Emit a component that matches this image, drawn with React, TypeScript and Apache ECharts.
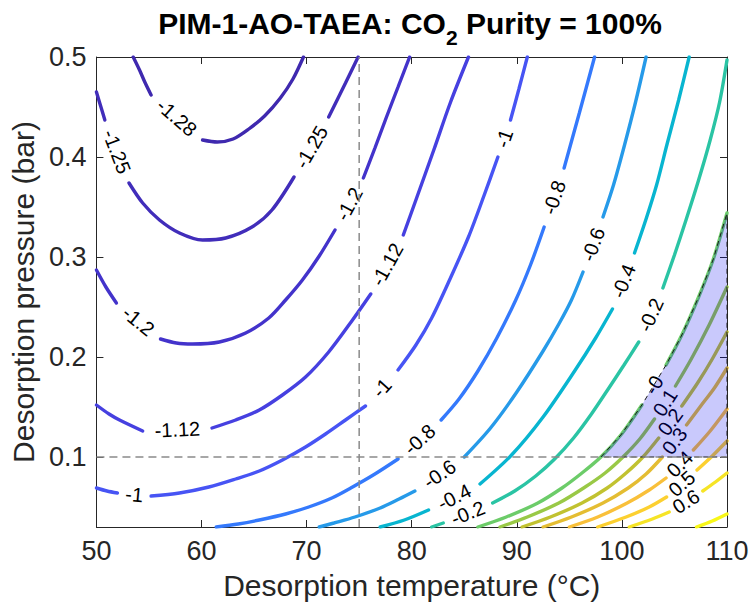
import { useEffect, useRef } from 'react';
import * as echarts from 'echarts';

const FONT = '"Liberation Sans", Arial, Helvetica, sans-serif';
const AXIS_COLOR = '#262626';

// axis ranges and ticks
const T_MIN = 50;
const T_MAX = 110;
const T_STEP = 10;
const P_MIN = 0.03;
const P_MAX = 0.5;
const P_TICKS = [0.1, 0.2, 0.3, 0.4, 0.5];

// operating limits (dashed guides)
const T_LIMIT = 75;
const P_LIMIT = 0.1;

// contour levels and their printed labels
const LEVELS = [-1.28, -1.25, -1.2, -1.12, -1, -0.8, -0.6, -0.4, -0.2, 0, 0.1, 0.2, 0.3, 0.4, 0.5, 0.6, 0.7];
const LEVEL_TEXT = ['-1.28', '-1.25', '-1.2', '-1.12', '-1', '-0.8', '-0.6', '-0.4', '-0.2', '-0', '0.1', '0.2', '0.3', '0.4', '0.5', '0.6', '0.7'];

// contour paths [T (°C), P (bar)]; each break between pieces holds an inline label
const C_M128 = [
  [[53.5, 0.5], [54.1, 0.487], [54.6, 0.475], [55.2, 0.462]],
  [[60.1, 0.417], [61.5, 0.415], [63.0, 0.418], [64.5, 0.428], [66.0, 0.441], [67.5, 0.459], [68.7, 0.478], [69.7, 0.5]],
];
const C_M125 = [
  [[50, 0.465], [50.4, 0.451], [50.8, 0.437]],
  [[53.1, 0.374], [54.4, 0.354], [56.0, 0.337], [57.9, 0.324], [60.1, 0.317], [62.3, 0.319], [64.8, 0.33], [66.7, 0.347], [68.8, 0.38]],
  [[72.1, 0.44], [73.7, 0.474], [74.9, 0.5]],
];
const C_M120 = [
  [[50, 0.287], [50.9, 0.27], [51.9, 0.254]],
  [[56.1, 0.218], [57.6, 0.214], [59.15, 0.213], [61.7, 0.215], [64.2, 0.224], [66.4, 0.239], [68.0, 0.257], [69.6, 0.277], [71.2, 0.301], [72.7, 0.327]],
  [[75.4, 0.379], [76.5, 0.409], [77.6, 0.44], [78.7, 0.47], [79.8, 0.5]],
];
const C_M112 = [
  [[50, 0.152], [51.2, 0.143], [52.2, 0.137], [54.4, 0.126]],
  [[61.0, 0.129], [63.25, 0.137], [65.5, 0.147], [67.7, 0.162], [69.9, 0.18], [72.1, 0.205], [74.3, 0.236], [76.1, 0.263]],
  [[79.2, 0.322], [80.5, 0.36], [82.1, 0.407], [83.7, 0.455], [85.4, 0.5]],
];
const C_M100 = [
  [[50, 0.069], [51.0, 0.066], [52.0, 0.064]],
  [[55.2, 0.061], [57.9, 0.064], [60.7, 0.07], [63.25, 0.078], [65.5, 0.086], [67.7, 0.097], [69.9, 0.11], [71.8, 0.123], [73.7, 0.137], [75.6, 0.151]],
  [[78.7, 0.187], [80.4, 0.212], [81.9, 0.239], [83.6, 0.277], [85.4, 0.32], [86.9, 0.362], [88.2, 0.4]],
  [[89.4, 0.437], [90.2, 0.468], [91.0, 0.5]],
];
const C_M080 = [
  [[61.4, 0.03], [63.5, 0.033], [65.5, 0.037], [68.0, 0.043], [70.2, 0.05], [72.4, 0.059], [74.2, 0.069], [76.5, 0.083], [78.7, 0.098]],
  [[82.8, 0.137], [84.5, 0.158], [86.3, 0.186], [88.1, 0.219], [89.9, 0.257], [91.3, 0.292], [92.6, 0.33]],
  [[94.5, 0.389], [95.95, 0.444], [97.4, 0.5]],
];
const C_M060 = [
  [[71.2, 0.03], [72.6, 0.034], [74.6, 0.04], [77.0, 0.049], [78.8, 0.058], [80.3, 0.066]],
  [[85.0, 0.1], [87.5, 0.129], [90.0, 0.165], [92.5, 0.206], [94.0, 0.233], [95.2, 0.257], [96.3, 0.285]],
  [[98.2, 0.34], [99.2, 0.372], [100.2, 0.41], [101.3, 0.455], [102.3, 0.5]],
];
const C_M040 = [
  [[77.0, 0.03], [79.3, 0.037], [81.6, 0.047]],
  [[86.5, 0.073], [89.5, 0.102], [92.5, 0.14], [95.5, 0.186], [97.5, 0.219], [99.1, 0.248]],
  [[101.2, 0.304], [102.3, 0.338], [103.3, 0.372], [104.3, 0.413], [105.4, 0.457], [106.4, 0.5]],
];
const C_M020 = [
  [[81.9, 0.03], [83.0, 0.034]],
  [[87.7, 0.054], [89.8, 0.066], [91.8, 0.081], [93.6, 0.098], [95.4, 0.119], [97.1, 0.143], [98.7, 0.168], [100.2, 0.192], [101.6, 0.215]],
  [[103.9, 0.269], [105.0, 0.302], [106.1, 0.337], [107.3, 0.377], [108.4, 0.417], [109.3, 0.455], [110, 0.497]],
];
const C_000 = [
  [[86.3, 0.03], [89.0, 0.04], [92.0, 0.054], [94.3, 0.069], [96.2, 0.084], [98.0, 0.1], [99.9, 0.122], [101.9, 0.152]],
  [[104.2, 0.192], [105.7, 0.222], [107.3, 0.26], [108.7, 0.298], [110, 0.344]],
];
const C_010 = [
  [[88.4, 0.03], [91.0, 0.04], [94.0, 0.054], [96.5, 0.07], [98.4, 0.084], [100.1, 0.1], [101.7, 0.118], [103.1, 0.138]],
  [[105.1, 0.171], [106.6, 0.198], [108.3, 0.232], [110, 0.27]],
];
const C_020 = [
  [[90.5, 0.03], [93.2, 0.04], [96.2, 0.054], [98.6, 0.069], [100.4, 0.084], [102.0, 0.1], [103.5, 0.119]],
  [[105.7, 0.151], [107.2, 0.174], [108.6, 0.198], [110, 0.225]],
];
const C_030 = [
  [[92.5, 0.03], [95.2, 0.04], [98.2, 0.054], [100.6, 0.069], [102.3, 0.083], [103.85, 0.1]],
  [[106.15, 0.132], [107.5, 0.151], [108.8, 0.169], [110, 0.189]],
];
const C_040 = [
  [[95.0, 0.03], [97.7, 0.04], [100.5, 0.054], [102.6, 0.067], [104.2, 0.079]],
  [[106.8, 0.107], [108.4, 0.126], [110, 0.148]],
];
const C_050 = [
  [[97.7, 0.03], [100.4, 0.04], [102.6, 0.05], [104.25, 0.06]],
  [[107.15, 0.087], [108.6, 0.101], [110, 0.116]],
];
const C_060 = [
  [[100.7, 0.03], [102.9, 0.038], [104.5, 0.045]],
  [[107.7, 0.066], [108.9, 0.075], [110, 0.084]],
];
const C_070 = [
  [[107.1, 0.03], [108.6, 0.036], [110, 0.043]],
];

const CONTOUR_PATHS = [
  C_M128, C_M125, C_M120, C_M112, C_M100, C_M080, C_M060, C_M040, C_M020,
  C_000, C_010, C_020, C_030, C_040, C_050, C_060, C_070,
];

// colour limits of the parula map
const COLOR_LIMITS = [-1.3, 0.72];

// parula colormap anchors (every 4th entry of the 64-colour table)
const PARULA_IDX = [0, 4, 8, 12, 16, 20, 24, 28, 32, 36, 40, 44, 48, 52, 56, 60, 63];
const PARULA_RGB = [
  [0.2422, 0.1504, 0.6603], [0.2706, 0.2147, 0.8364], [0.2813, 0.3006, 0.9414], [0.2699, 0.3892, 0.9906],
  [0.1963, 0.4847, 0.9892], [0.1687, 0.5703, 0.9359], [0.1248, 0.6459, 0.8883], [0.0297, 0.7082, 0.8163],
  [0.0964, 0.75, 0.712], [0.2161, 0.7843, 0.5923], [0.3909, 0.8029, 0.4354], [0.6174, 0.7876, 0.2612],
  [0.8203, 0.7498, 0.1535], [0.9728, 0.7298, 0.2394], [0.9892, 0.8136, 0.1885], [0.9597, 0.9135, 0.1423],
  [0.9769, 0.9839, 0.0805],
];

function parula(v: number): string {
  const t = Math.min(1, Math.max(0, (v - COLOR_LIMITS[0]) / (COLOR_LIMITS[1] - COLOR_LIMITS[0])));
  const x = t * 63;
  let i = 0;
  while (i < PARULA_IDX.length - 2 && x > PARULA_IDX[i + 1]) i++;
  const f = (x - PARULA_IDX[i]) / (PARULA_IDX[i + 1] - PARULA_IDX[i]);
  const a = PARULA_RGB[i];
  const b = PARULA_RGB[i + 1];
  const c = a.map((ai, k) => Math.round(255 * (ai + (b[k] - ai) * f)));
  return `rgb(${c[0]},${c[1]},${c[2]})`;
}

const TITLE_MAIN = 'PIM-1-AO-TAEA: CO';
const TITLE_SUB = '2';
const TITLE_REST = ' Purity = 100%';

export default function App() {
  const ref = useRef<HTMLDivElement>(null);

  useEffect(() => {
    const el = ref.current;
    if (!el) return;
    const chart = echarts.init(el, null, { renderer: 'svg' });

    const contourSeries: any[] = [];
    CONTOUR_PATHS.forEach((pieces, li) => {
      const color = parula(LEVELS[li]);
      pieces.forEach((piece, pi) => {
        contourSeries.push({
          id: `c${li}_${pi}`,
          type: 'line',
          data: piece,
          showSymbol: false,
          symbol: 'none',
          smooth: 0.3,
          clip: true,
          silent: true,
          z: 2,
          lineStyle: { color, width: 3.4, cap: 'round' },
        });
      });
    });

    // feasible window: right of the zero contour and above the pressure limit
    const zeroPts = C_000.flat().filter((p) => p[1] >= P_LIMIT);
    const regionPts = [...zeroPts, [T_MAX, P_LIMIT]];

    const axisCommon = {
      type: 'value' as const,
      splitLine: { show: false },
      axisLine: { show: true, onZero: false, lineStyle: { color: AXIS_COLOR, width: 1 } },
      axisTick: { show: true, inside: true, length: 7, lineStyle: { color: AXIS_COLOR, width: 1 } },
    };

    const option: any = {
      animation: false,
      backgroundColor: '#ffffff',
      grid: { left: 94, right: 26, top: 57, bottom: 86, containLabel: false },
      xAxis: [
        {
          ...axisCommon,
          position: 'bottom',
          min: T_MIN,
          max: T_MAX,
          interval: T_STEP,
          axisLabel: { color: AXIS_COLOR, fontSize: 27, fontFamily: FONT, margin: 10 },
          name: 'Desorption temperature (°C)',
          nameLocation: 'middle',
          nameGap: 43,
          nameTextStyle: { color: AXIS_COLOR, fontSize: 30, fontFamily: FONT },
        },
        {
          ...axisCommon,
          position: 'top',
          min: T_MIN,
          max: T_MAX,
          interval: T_STEP,
          axisLabel: { show: false },
        },
      ],
      yAxis: [
        {
          ...axisCommon,
          position: 'left',
          min: P_MIN,
          max: P_MAX,
          axisTick: { ...axisCommon.axisTick, customValues: P_TICKS },
          axisLabel: {
            color: AXIS_COLOR,
            fontSize: 27,
            fontFamily: FONT,
            margin: 10,
            customValues: P_TICKS,
            formatter: (v: number) => v.toFixed(1),
          },
          name: 'Desorption pressure (bar)',
          nameLocation: 'middle',
          nameGap: 52,
          nameTextStyle: { color: AXIS_COLOR, fontSize: 30, fontFamily: FONT },
        },
        {
          ...axisCommon,
          position: 'right',
          min: P_MIN,
          max: P_MAX,
          axisTick: { ...axisCommon.axisTick, customValues: P_TICKS },
          axisLabel: { show: false },
        },
      ],
      series: [
        ...contourSeries,
        {
          id: 'region',
          type: 'custom',
          coordinateSystem: 'cartesian2d',
          xAxisIndex: 0,
          yAxisIndex: 0,
          silent: true,
          z: 4,
          data: [[T_MAX, P_LIMIT]],
          renderItem: (_params: any, api: any) => ({
            type: 'polygon',
            shape: { points: regionPts.map((p) => api.coord(p)) },
            style: { fill: 'rgba(0,0,240,0.21)', stroke: '#1a1a1a', lineWidth: 1, lineDash: [5, 4] },
          }),
        },
        {
          id: 'tLimit',
          type: 'line',
          data: [[T_LIMIT, P_MIN], [T_LIMIT, P_MAX]],
          showSymbol: false,
          symbol: 'none',
          silent: true,
          z: 5,
          lineStyle: { color: '#8a8a8a', width: 1.5, type: [8, 5] },
        },
        {
          id: 'pLimit',
          type: 'line',
          data: [[T_MIN, P_LIMIT], [T_MAX, P_LIMIT]],
          showSymbol: false,
          symbol: 'none',
          silent: true,
          z: 5,
          lineStyle: { color: '#8a8a8a', width: 1.5, type: [8, 5] },
        },
      ],
    };

    chart.setOption(option);

    // inline contour labels, placed in each break and turned along the line
    const graphics: any[] = [];
    CONTOUR_PATHS.forEach((pieces, li) => {
      for (let i = 0; i < pieces.length - 1; i++) {
        const a = pieces[i][pieces[i].length - 1];
        const b = pieces[i + 1][0];
        const pa = chart.convertToPixel({ xAxisIndex: 0, yAxisIndex: 0 }, a) as number[];
        const pb = chart.convertToPixel({ xAxisIndex: 0, yAxisIndex: 0 }, b) as number[];
        let ang = Math.atan2(-(pb[1] - pa[1]), pb[0] - pa[0]);
        if (ang > Math.PI / 2) ang -= Math.PI;
        if (ang < -Math.PI / 2) ang += Math.PI;
        graphics.push({
          type: 'text',
          x: (pa[0] + pb[0]) / 2,
          y: (pa[1] + pb[1]) / 2,
          rotation: ang,
          z: 3,
          silent: true,
          style: {
            text: LEVEL_TEXT[li],
            fontSize: 20,
            fontFamily: FONT,
            fill: '#000000',
            align: 'center',
            verticalAlign: 'middle',
          },
        });
      }
    });

    // title with subscript
    const ctx = document.createElement('canvas').getContext('2d');
    const mainFont = `bold 30px ${FONT}`;
    const subFont = `bold 21px ${FONT}`;
    let w1 = 280;
    let w2 = 12;
    let w3 = 210;
    if (ctx) {
      ctx.font = mainFont;
      w1 = ctx.measureText(TITLE_MAIN).width;
      w3 = ctx.measureText(TITLE_REST).width;
      ctx.font = subFont;
      w2 = ctx.measureText(TITLE_SUB).width;
    }
    const titleCenter = 410;
    const x0 = titleCenter - (w1 + w2 + w3) / 2;
    const titleStyle = { fontSize: 30, fontWeight: 'bold', fontFamily: FONT, fill: '#000000', align: 'left', verticalAlign: 'middle' };
    graphics.push(
      { type: 'text', x: x0, y: 23, z: 10, style: { ...titleStyle, text: TITLE_MAIN } },
      { type: 'text', x: x0 + w1, y: 37, z: 10, style: { ...titleStyle, fontSize: 21, text: TITLE_SUB } },
      { type: 'text', x: x0 + w1 + w2, y: 23, z: 10, style: { ...titleStyle, text: TITLE_REST } },
    );

    chart.setOption({ graphic: graphics });

    return () => chart.dispose();
  }, []);

  return (
    <div
      ref={ref}
      style={{ position: 'fixed', left: 0, top: 0, width: 753, height: 613, background: '#ffffff' }}
    />
  );
}
